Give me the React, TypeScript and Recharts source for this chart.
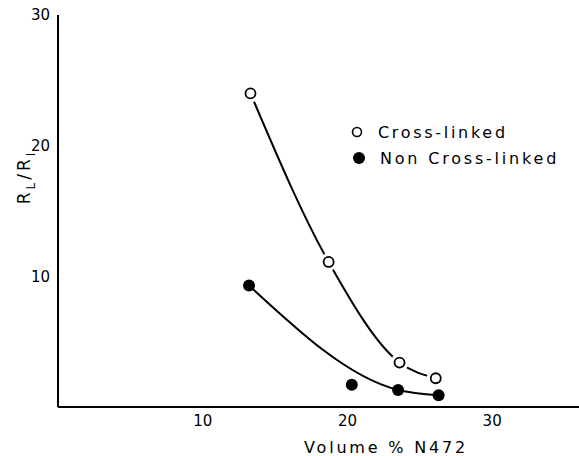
import React from "react";
import { ComposedChart, Line, Scatter, XAxis, YAxis } from "recharts";

const crossX = [13.3, 18.7, 23.6, 26.1];
const crossY = [24.0, 11.1, 3.4, 2.2];
const nonX = [13.2, 20.3, 23.5, 26.3];
const nonY = [9.3, 1.7, 1.3, 0.9];
const nonCurveX = [13.2, 23.5, 26.3];
const nonCurveY = [9.3, 1.3, 0.9];
const xTicks = [10, 20, 30];
const yTicks = [10, 20, 30];
const legendLabels = ["Cross-linked", "Non Cross-linked"];
const xTitle = "Volume %  N472";

const crossData = crossX.map((x, i) => ({ x, y: crossY[i] }));
const nonData = nonX.map((x, i) => ({ x, y: nonY[i] }));
const nonCurve = nonCurveX.map((x, i) => ({ x, y: nonCurveY[i] }));

const FONT = "'DejaVu Sans', sans-serif";

const OpenMark = (p: any) => (
  <g>
    <circle cx={p.cx} cy={p.cy} r={9} fill="#fff" />
    <circle cx={p.cx} cy={p.cy} r={5} fill="none" stroke="#000" strokeWidth={1.8} />
  </g>
);
const FilledMark = (p: any) => <circle cx={p.cx} cy={p.cy} r={6} fill="#000" />;

export default function App() {
  return (
    <div style={{ position: "absolute", left: 0, top: 0, width: 579, height: 456, fontFamily: FONT, background: "#fff" }}>
      <ComposedChart width={579} height={456} margin={{ top: 15, right: 0, left: 0, bottom: 19 }}>
        <XAxis
          type="number"
          dataKey="x"
          domain={[0, 36]}
          ticks={xTicks}
          tickLine={false}
          axisLine={{ stroke: "#000", strokeWidth: 2 }}
          tick={{ fill: "#000", fontSize: 15, fontFamily: FONT }}
          height={30}
          allowDataOverflow
          label={{
            content: () => (
              <text x={386} y={453} textAnchor="middle" fontSize={16} fill="#000" fontFamily={FONT} letterSpacing={2.8}>
                {xTitle}
              </text>
            ),
          }}
        />
        <YAxis
          type="number"
          dataKey="y"
          domain={[0, 30]}
          ticks={yTicks}
          tickLine={false}
          width={58}
          axisLine={{ stroke: "#000", strokeWidth: 2 }}
          tick={{ fill: "#000", fontSize: 15, fontFamily: FONT }}
          allowDataOverflow
          label={{
            content: () => (
              <text x={30} y={177} textAnchor="middle" fontSize={17} fill="#000" fontFamily={FONT} letterSpacing={3} transform="rotate(-90 30 177)">
                R<tspan fontSize={12} dy={5}>L</tspan>
                <tspan dy={-5}>/R</tspan>
                <tspan fontSize={12} dy={5}>I</tspan>
              </text>
            ),
          }}
        />
        <Line data={crossData} dataKey="y" type="monotone" stroke="#000" strokeWidth={2} dot={false} activeDot={false} isAnimationActive={false} />
        <Line data={nonCurve} dataKey="y" type="monotone" stroke="#000" strokeWidth={2} dot={false} activeDot={false} isAnimationActive={false} />
        <Scatter data={crossData} dataKey="y" shape={OpenMark} isAnimationActive={false} />
        <Scatter data={nonData} dataKey="y" shape={FilledMark} isAnimationActive={false} />
      </ComposedChart>
      <svg width={579} height={456} style={{ position: "absolute", left: 0, top: 0, pointerEvents: "none" }}>
        <circle cx={357} cy={132} r={4.5} fill="none" stroke="#000" strokeWidth={1.6} />
        <text x={378} y={138} fontSize={16} fill="#000" fontFamily={FONT} letterSpacing={2.7}>{legendLabels[0]}</text>
        <circle cx={359} cy={158} r={6} fill="#000" />
        <text x={380} y={164} fontSize={16} fill="#000" fontFamily={FONT} letterSpacing={2.8}>{legendLabels[1]}</text>
      </svg>
    </div>
  );
}
